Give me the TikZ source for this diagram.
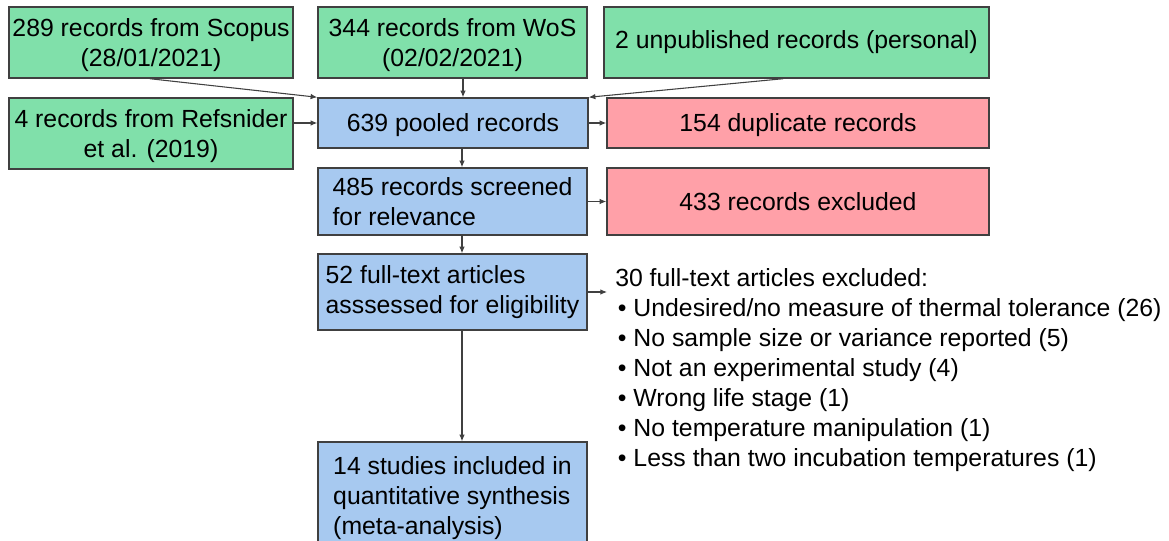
\documentclass[tikz,border=0pt]{standalone}
\usepackage{fontspec}
\setmainfont{Liberation Sans}
\usetikzlibrary{arrows.meta,calc}
\definecolor{srcgreen}{RGB}{128,224,170}
\definecolor{flowblue}{RGB}{167,201,240}
\definecolor{droppink}{RGB}{255,160,168}
\definecolor{edgegray}{RGB}{64,64,64}
\def\pxu{0.75pt}
\begin{document}
\begin{tikzpicture}[x=0.75pt,y=-0.75pt,
  box/.style={draw=edgegray,line width=1.1pt,inner sep=0pt,align=center,
    font=\fontsize{18.6}{22.5}\selectfont},
  srcbox/.style={box,fill=srcgreen,font=\fontsize{18.6}{23.2}\selectfont},
  flowbox/.style={box,fill=flowblue},
  dropbox/.style={box,fill=droppink},
  leftbox/.style={flowbox,align=left},
  lowtext/.style={text depth=0pt},
  listtext/.style={inner sep=0pt,align=left,font=\fontsize{18.6}{22.5}\selectfont},
  arr/.style={draw=edgegray,line width=0.8pt,-{Latex[length=5pt,width=4.2pt]}}]
\clip (0,0) rectangle (1169,541);
\fill[white] (0,0) rectangle (1169,541);

% sources
\node[srcbox,lowtext,minimum width=284*\pxu,minimum height=71*\pxu] (scopus) at (151,42.5)
  {289 records from Scopus\\(28/01/2021)};
\node[srcbox,lowtext,minimum width=269*\pxu,minimum height=71*\pxu] (wos) at (452.5,42.5)
  {344 records from WoS\\(02/02/2021)};
\node[srcbox,minimum width=385*\pxu,minimum height=71*\pxu] (unpub) at (796.5,42.5)
  {2 unpublished records (personal)};
\node[srcbox,lowtext,minimum width=284*\pxu,minimum height=71*\pxu] (refs) at (151,133.5)
  {4 records from Refsnider\\et al. (2019)};

% main flow
\node[flowbox,lowtext,minimum width=270*\pxu,minimum height=50*\pxu] (pooled) at (453,123)
  {639 pooled records};
\node[leftbox,minimum width=269*\pxu,minimum height=67*\pxu] (screened) at (452.5,201.5)
  {485 records screened\\for relevance};
\node[leftbox,minimum width=269*\pxu,minimum height=76*\pxu] (fulltext) at (452.5,292)
  {52 full-text articles\\asssessed for eligibility};
\node[leftbox,lowtext,minimum width=269*\pxu,minimum height=108*\pxu] (studies) at (452.5,496)
  {14 studies included in\\quantitative synthesis\\(meta-analysis)};

% removed records
\node[dropbox,lowtext,minimum width=382*\pxu,minimum height=50*\pxu] (dup) at (798,123)
  {154 duplicate records};
\node[dropbox,minimum width=382*\pxu,minimum height=67*\pxu] (excl) at (798,201.5)
  {433 records excluded};

\node[listtext,anchor=west] (exlist) at (615,370)
  {30 full-text articles excluded:\\
   \hspace*{2pt}• Undesired/no measure of thermal tolerance (26)\\
   \hspace*{2pt}• No sample size or variance reported (5)\\
   \hspace*{2pt}• Not an experimental study (4)\\
   \hspace*{2pt}• Wrong life stage (1)\\
   \hspace*{2pt}• No temperature manipulation (1)\\
   \hspace*{2pt}• Less than two incubation temperatures (1)};
\coordinate (exin) at ($(exlist.west |- fulltext.east)+(-8,0)$);

% connectors
\draw[arr] ([xshift=-1*\pxu]scopus.south) -- (pooled.north west);
\draw[arr] ([xshift=10.5*\pxu]wos.south) -- ([xshift=10*\pxu]pooled.north);
\draw[arr] ([xshift=-13.5*\pxu]unpub.south) -- (pooled.north east);
\draw[arr] (refs.east |- pooled.west) -- (pooled.west);
\draw[arr] (pooled.east) -- (dup.west);
\draw[arr] ([xshift=9*\pxu]pooled.south) -- ([xshift=9.5*\pxu]screened.north);
\draw[arr] (screened.east) -- (excl.west);
\draw[arr] ([xshift=9.5*\pxu]screened.south) -- ([xshift=9.5*\pxu]fulltext.north);
\draw[arr] (fulltext.east) -- (exin);
\draw[arr] ([xshift=9.5*\pxu]fulltext.south) -- ([xshift=9.5*\pxu]studies.north);
\end{tikzpicture}
\end{document}
